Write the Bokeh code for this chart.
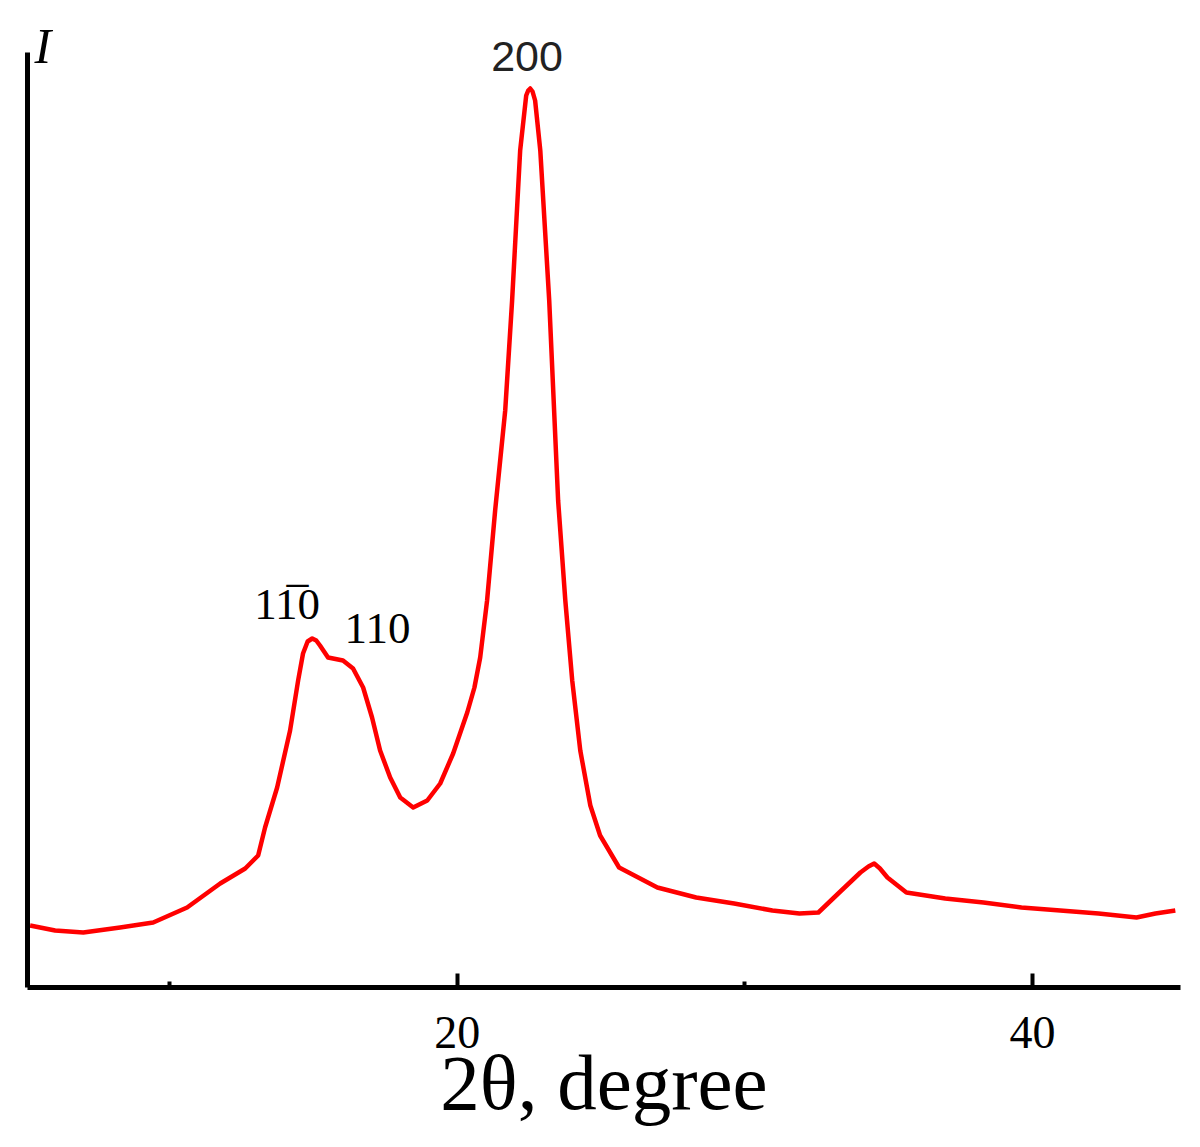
from bokeh.plotting import figure
from bokeh.models import Range1d, FixedTicker, Label
from bokeh.embed import file_html
from bokeh.resources import INLINE

# Diffraction pattern (2theta in degrees, intensity in arbitrary units)
two_theta = [5.15, 6.02, 7.00, 8.28, 9.43, 10.61, 11.76, 12.63, 13.08, 13.32,
             13.74, 14.19, 14.47, 14.64, 14.80, 14.96, 15.10, 15.23, 15.51, 16.03,
             16.38, 16.73, 17.04, 17.32, 17.67, 18.02, 18.47, 18.96, 19.41, 19.86,
             20.35, 20.60, 20.80, 21.04, 21.32, 21.67, 21.91, 22.19, 22.40, 22.47,
             22.54, 22.62, 22.71, 22.89, 23.20, 23.51, 23.76, 24.00, 24.28, 24.63,
             24.97, 25.63, 26.96, 28.31, 29.63, 30.96, 31.90, 32.56, 33.25, 34.02,
             34.30, 34.50, 34.70, 34.96, 35.62, 36.97, 38.30, 39.62, 40.97, 42.30,
             43.62, 44.28, 44.97]
intensity = [62, 57, 55, 60, 65, 80, 104, 119, 132, 160,
             200, 257, 307, 334, 346, 349, 347, 342, 330, 327,
             319, 300, 270, 237, 210, 190, 180, 187, 204, 234,
             275, 300, 330, 387, 477, 577, 687, 837, 892, 897,
             899, 896, 887, 837, 687, 487, 387, 307, 237, 182,
             152, 120, 100, 90, 84, 77, 74, 75, 94, 115,
             121, 124, 119, 110, 95, 89, 85, 80, 77, 74,
             70, 74, 77]

major_ticks = [20, 40]
minor_ticks = [10, 30]

peak_names = ["200", "1" + "1\u0305" + "0", "110"]
peak_x = [22.43, 14.09, 17.23]
peak_y = [931, 384, 359]

p = figure(width=1192, height=1147, output_backend="svg", toolbar_location=None,
           x_range=Range1d(5.06, 45.15), y_range=Range1d(0, 987),
           min_border_left=27, min_border_right=12, min_border_top=0,
           min_border_bottom=160)
p.outline_line_color = None
p.xgrid.visible = False
p.ygrid.visible = False
p.background_fill_color = "white"
p.border_fill_color = "white"

p.line(two_theta, intensity, line_color="#ff0000", line_width=4.5, line_join="round")

# x axis
xa = p.xaxis[0]
xa.ticker = FixedTicker(ticks=major_ticks, minor_ticks=minor_ticks)
xa.axis_line_width = 5
xa.axis_line_color = "black"
xa.major_tick_in = 14
xa.major_tick_out = 0
xa.major_tick_line_width = 4
xa.minor_tick_in = 6
xa.minor_tick_out = 0
xa.minor_tick_line_width = 4
xa.major_label_text_font = "Liberation Serif"
xa.major_label_text_font_size = "46px"
xa.major_label_text_color = "black"
xa.major_label_standoff = 29
xa.axis_label = "2\u03b8, degree"
xa.axis_label_text_font = "Liberation Serif"
xa.axis_label_text_font_style = "normal"
xa.axis_label_text_font_size = "79px"
xa.axis_label_text_color = "black"
xa.axis_label_standoff = -12

# y axis: line only, ending below the top of the frame
ya = p.yaxis[0]
ya.ticker = FixedTicker(ticks=[])
ya.bounds = (0, 935)
ya.axis_line_width = 5
ya.axis_line_color = "black"
ya.major_tick_in = 0
ya.major_tick_out = 0
ya.minor_tick_in = 0
ya.minor_tick_out = 0
ya.major_label_text_font_size = "0px"
ya.major_label_standoff = 0

# axis name I
p.add_layout(Label(x=5.30, y=942, text="I", text_font="Liberation Serif",
                   text_font_style="italic", text_font_size="50px",
                   text_color="black", text_baseline="alphabetic"))

# peak labels
fonts = ["Liberation Sans", "Liberation Serif", "Liberation Serif"]
sizes = ["43px", "45px", "45px"]
colors = ["#222222", "black", "black"]
for name, x, y, f, s, c in zip(peak_names, peak_x, peak_y, fonts, sizes, colors):
    p.add_layout(Label(x=x, y=y, text=name, text_font=f, text_font_size=s,
                       text_color=c, text_align="center", text_baseline="alphabetic"))

open("out.html", "w").write(file_html(p, INLINE))
